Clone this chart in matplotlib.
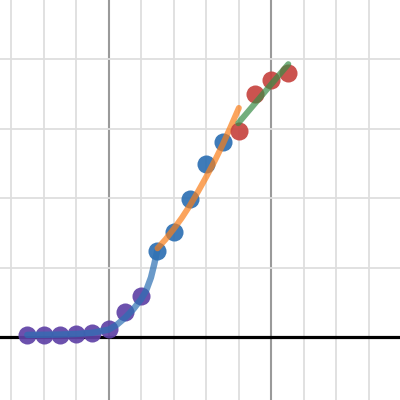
import matplotlib
matplotlib.use("Agg")
import matplotlib.pyplot as plt
from matplotlib.ticker import MultipleLocator

# ---- data ----
purple_x = [-2.5, -2.0, -1.5, -1.0, -0.5, 0.0, 0.5, 1.0]
purple_y = [0.035, 0.04, 0.04, 0.045, 0.065, 0.115, 0.36, 0.60]

blue_x = [1.5, 2.0, 2.5, 3.0, 3.5]
blue_y = [1.24, 1.52, 1.99, 2.49, 2.81]

red_x = [4.0, 4.5, 5.0, 5.5]
red_y = [2.97, 3.50, 3.70, 3.80]

blue_curve_x = [-2.5, -2.0, -1.5, -1.0, -0.5, 0.0, 0.25, 0.5, 0.75, 1.0, 1.15, 1.3, 1.4, 1.5]
blue_curve_y = [0.035, 0.037, 0.04, 0.048, 0.065, 0.11, 0.18, 0.28, 0.40, 0.55, 0.67, 0.86, 1.05, 1.26]

orange_curve_x = [1.5, 1.75, 2.0, 2.25, 2.5, 2.75, 3.0, 3.25, 3.5, 3.75, 4.0]
orange_curve_y = [1.28, 1.41, 1.56, 1.72, 1.90, 2.10, 2.31, 2.53, 2.77, 3.03, 3.30]

green_line_x = [3.98, 5.52]
green_line_y = [3.08, 3.93]

# ---- figure ----
fig = plt.figure(figsize=(4, 4), dpi=100)
ax = fig.add_axes([0, 0, 1, 1])
ax.set_xlim(-3.338, 8.951)
ax.set_ylim(-0.902, 4.853)

ax.xaxis.set_major_locator(MultipleLocator(5))
ax.xaxis.set_minor_locator(MultipleLocator(1))
ax.yaxis.set_major_locator(MultipleLocator(5))
ax.yaxis.set_minor_locator(MultipleLocator(1))
ax.grid(which="minor", color="#dedede", linewidth=1.3, zorder=0)
ax.grid(which="major", axis="x", color="#9a9a9a", linewidth=1.5, zorder=1)
ax.tick_params(which="both", length=0, labelbottom=False, labelleft=False)
for s in ax.spines.values():
    s.set_visible(False)
ax.set_axisbelow(True)
ax.axhline(0, color="black", linewidth=2.3, zorder=2)

ms = 13
ax.plot(purple_x, purple_y, "o", color="#6042a6", alpha=0.92, markersize=ms,
        markeredgewidth=0, zorder=3)
ax.plot(blue_curve_x, blue_curve_y, "-", color="#2d70b3", alpha=0.7, linewidth=4.6,
        solid_capstyle="round", solid_joinstyle="round", zorder=4)
ax.plot(blue_x, blue_y, "o", color="#2d70b3", alpha=0.92, markersize=ms,
        markeredgewidth=0, zorder=5)
ax.plot(orange_curve_x, orange_curve_y, "-", color="#fa7e19", alpha=0.7, linewidth=4.3,
        solid_capstyle="round", solid_joinstyle="round", zorder=6)
ax.plot(red_x, red_y, "o", color="#c74440", alpha=0.92, markersize=ms,
        markeredgewidth=0, zorder=7)
ax.plot(green_line_x, green_line_y, "-", color="#388c46", alpha=0.7, linewidth=4.3,
        solid_capstyle="round", zorder=8)

fig.savefig("out.png", dpi=100)
